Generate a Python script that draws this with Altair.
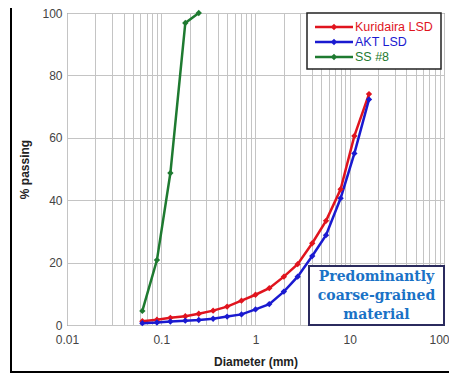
import altair as alt
import pandas as pd

sizes = [0.063, 0.09, 0.125, 0.18, 0.25, 0.355, 0.5, 0.71, 1.0, 1.4, 2.0, 2.8, 4.0, 5.6, 8.0, 11.2, 16.0]
kuridaira = [1.2, 1.7, 2.3, 2.8, 3.6, 4.6, 5.9, 7.8, 9.7, 11.8, 15.5, 19.5, 26.2, 33.4, 43.5, 60.6, 74.0]
akt = [0.6, 0.8, 1.1, 1.4, 1.6, 2.0, 2.7, 3.4, 5.0, 6.7, 10.7, 15.5, 22.1, 28.8, 40.6, 55.0, 72.3]
ss_sizes = [0.063, 0.09, 0.125, 0.18, 0.25]
ss8 = [4.5, 20.8, 48.7, 96.8, 100.0]

series = ["Kuridaira LSD", "AKT LSD", "SS #8"]
colors = ["#e0141e", "#1a1ad0", "#1e7a30"]
x_ticks = [m * 10.0 ** e for e in range(-2, 2) for m in range(1, 10)] + [100.0]
y_ticks = [0, 20, 40, 60, 80, 100]
note_lines = ["Predominantly", "coarse-grained", "material"]

rows = []
for name, xs, ys in [(series[0], sizes, kuridaira), (series[1], sizes, akt), (series[2], ss_sizes, ss8)]:
    for i, (d, p) in enumerate(zip(xs, ys)):
        rows.append({"series": name, "d": d, "p": p, "i": i})
df = pd.DataFrame(rows)

color = alt.Color("series:N", scale=alt.Scale(domain=series, range=colors), legend=None)

x = alt.X("d:Q", scale=alt.Scale(type="log", domain=[0.01, 100]),
          axis=alt.Axis(values=x_ticks, title="Diameter (mm)",
                        labelExpr="indexof(['0.01','0.1','1','10','100'], format(datum.value, '')) >= 0 ? format(datum.value, '') : ''",
                        labelAlign={"expr": "datum.value >= 100 ? 'right' : 'center'"},
                        labelOffset={"expr": "datum.value >= 100 ? 5 : 0"},
                        labelFlush=False, tickSize=0, labelPadding=9, titlePadding=11,
                        gridColor="#c4c4c4", domain=False))
y = alt.Y("p:Q", scale=alt.Scale(domain=[0, 100], nice=False),
          axis=alt.Axis(values=y_ticks, title="% passing", tickSize=0, labelPadding=5,
                        titlePadding=10, gridColor="#c4c4c4", domain=False))

base = alt.Chart(df)
lines = base.mark_line(strokeWidth=2.5).encode(
    x=x, y=y, color=color, detail="series:N", order="i:Q"
)
points = base.mark_point(shape="diamond", filled=True, size=40, opacity=1).encode(
    x="d:Q", y="p:Q", color=color
)

one = pd.DataFrame({"t": ["\n".join(note_lines)]})

# legend (manual)
legend_layers = [
    alt.Chart(one).mark_rect(fill="white", stroke="#222", strokeWidth=1.5).encode(
        x=alt.value(240), x2=alt.value(374), y=alt.value(0), y2=alt.value(56))
]
for k, (name, col) in enumerate(zip(series, colors)):
    ly = 14 + 15 * k
    legend_layers.append(alt.Chart(one).mark_rule(color=col, strokeWidth=2.5).encode(
        x=alt.value(248), x2=alt.value(286), y=alt.value(ly)))
    legend_layers.append(alt.Chart(one).mark_point(shape="diamond", filled=True, size=40,
                                                   color=col, opacity=1).encode(
        x=alt.value(267), y=alt.value(ly)))
    legend_layers.append(alt.Chart(one).mark_text(
        text=name, color=col, font="Liberation Sans", fontSize=12.5, align="left",
        baseline="middle").encode(x=alt.value(288), y=alt.value(ly)))

note_box = alt.Chart(one).mark_rect(fill="white", stroke="#2b2b5e", strokeWidth=2).encode(
    x=alt.value(242), x2=alt.value(377), y=alt.value(253), y2=alt.value(312)
)
note_text = alt.Chart(one).mark_text(
    font="DejaVu Serif", fontWeight="bold", fontSize=14, color="#1a72c6",
    lineBreak="\n", lineHeight=19, align="center", baseline="middle"
).encode(x=alt.value(309.5), y=alt.value(264), text="t:N")

frame = alt.Chart(one).mark_rect(fill=None, stroke="black", strokeWidth=2).encode(
    x=alt.value(-56), x2=alt.value(420), y=alt.value(-30), y2=alt.value(359)
)

chart = alt.layer(lines, points, *legend_layers, note_box, note_text, frame).properties(
    width=377, height=312,
    autosize=alt.AutoSizeParams(type="none"),
    padding={"left": 59, "top": 5, "right": 5, "bottom": 49},
).configure_view(stroke="#555", strokeWidth=1).configure_axis(
    labelFont="Liberation Sans", labelFontSize=12, labelColor="#444",
    titleFont="Liberation Sans", titleFontSize=12, titleFontWeight="bold", titleColor="#222",
    grid=True,
)

chart.save("out.html", embed_options={"renderer": "svg", "actions": False})
